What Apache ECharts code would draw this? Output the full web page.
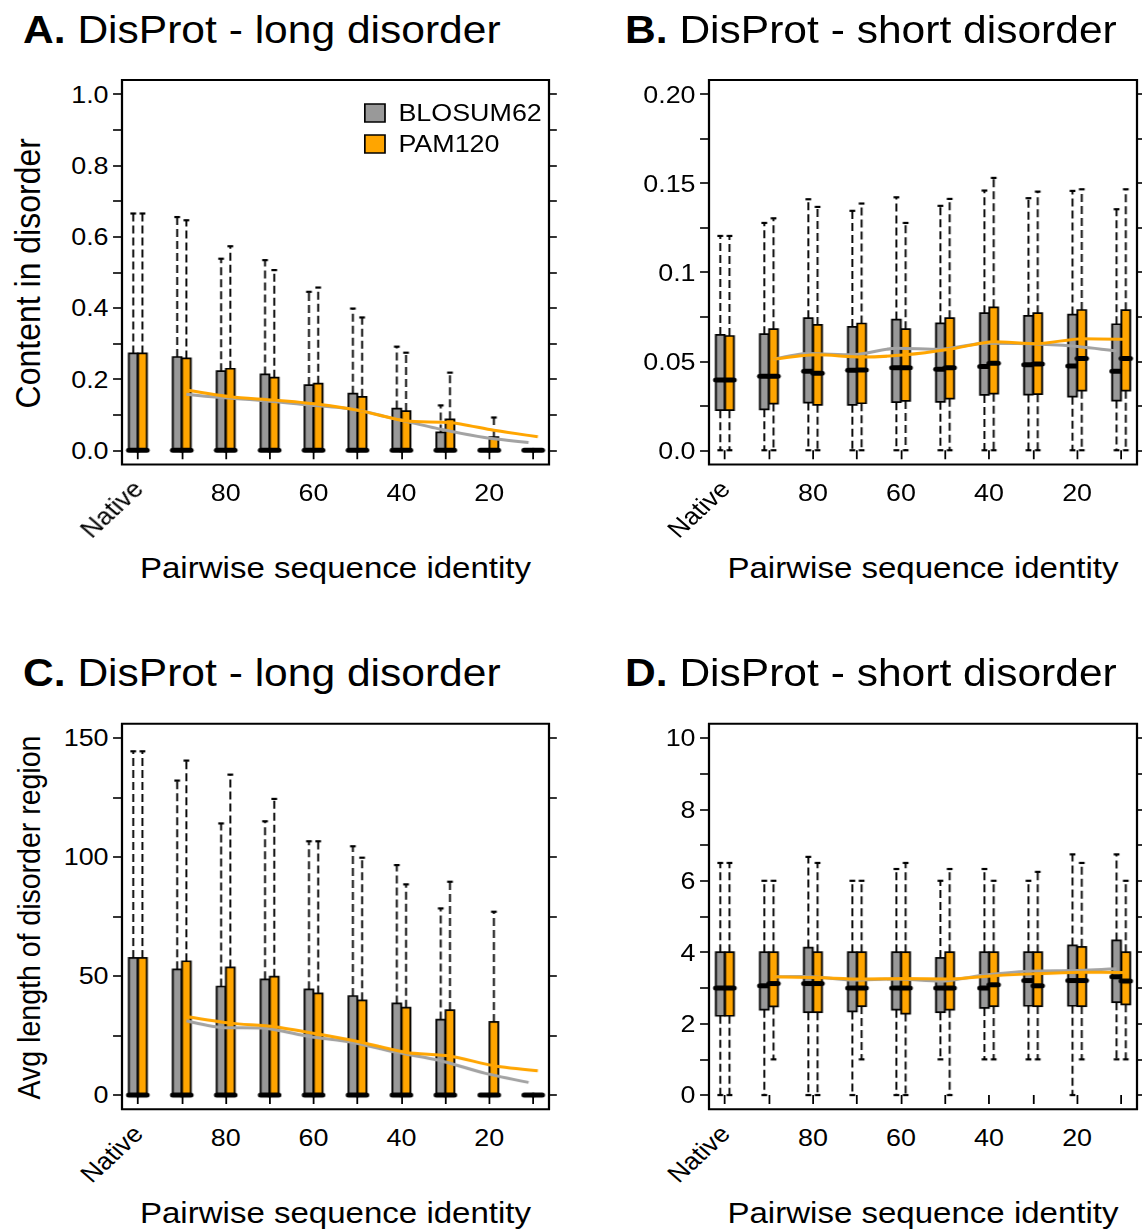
<!DOCTYPE html>
<html>
<head>
<meta charset="utf-8">
<script src="https://cdn.jsdelivr.net/npm/echarts@6/dist/echarts.min.js"></script>
<style>
  html, body { margin: 0; padding: 0; background: #fff; overflow: hidden; }
  /* the figure is laid out on a narrower canvas and stretched horizontally */
  #chart { width: 1019.64px; height: 1229px; transform: scaleX(1.12); transform-origin: 0 0; }
</style>
</head>
<body>
<div id="chart"></div>
<script>
// ---------------- data ----------------
// x groups: native sequences, then decreasing pairwise identity (%)
const groupNames = ['Native', '90', '80', '70', '60', '50', '40', '30', '20', '10'];
const xLabelGroups = [3, 5, 7, 9];           // groups that carry a numeric label
const nativeGroup = [1];

// five-number summaries per group: [min, q1, median, q3, max]
// A: DisProt long disorder, content in disorder
const blosumA = [
  [0, 0, 0, 0.272, 0.665], [0, 0, 0, 0.262, 0.655], [0, 0, 0, 0.222, 0.538],
  [0, 0, 0, 0.213, 0.534], [0, 0, 0, 0.183, 0.445], [0, 0, 0, 0.159, 0.398],
  [0, 0, 0, 0.117, 0.291], [0, 0, 0, 0.050, 0.126], [0, 0, 0, 0, 0], [0, 0, 0, 0, 0]
];
const pamA = [
  [0, 0, 0, 0.272, 0.665], [0, 0, 0, 0.258, 0.646], [0, 0, 0, 0.229, 0.573],
  [0, 0, 0, 0.204, 0.506], [0, 0, 0, 0.187, 0.457], [0, 0, 0, 0.150, 0.373],
  [0, 0, 0, 0.110, 0.274], [0, 0, 0, 0.087, 0.218], [0, 0, 0, 0.037, 0.092], [0, 0, 0, 0, 0]
];
// smoothed trends over groups 90 .. 10
const trendBlosumA = [0.157, 0.148, 0.139, 0.127, 0.115, 0.087, 0.059, 0.036, 0.022];
const trendPamA    = [0.169, 0.150, 0.141, 0.129, 0.110, 0.082, 0.078, 0.056, 0.038];

// B: DisProt short disorder, content in disorder
const blosumB = [
  [0, 0.0225, 0.0395, 0.0648, 0.1204], [0, 0.0230, 0.0416, 0.0652, 0.1277],
  [0, 0.0268, 0.0444, 0.0742, 0.1410], [0, 0.0255, 0.0449, 0.0693, 0.1345],
  [0, 0.0270, 0.0464, 0.0734, 0.1421], [0, 0.0272, 0.0455, 0.0713, 0.1373],
  [0, 0.0311, 0.0470, 0.0770, 0.1459], [0, 0.0313, 0.0481, 0.0755, 0.1416],
  [0, 0.0301, 0.0474, 0.0762, 0.1457], [0, 0.0279, 0.0444, 0.0708, 0.1354]
];
const pamB = [
  [0, 0.0225, 0.0395, 0.0642, 0.1204], [0, 0.0262, 0.0416, 0.0680, 0.1303],
  [0, 0.0255, 0.0433, 0.0704, 0.1367], [0, 0.0264, 0.0451, 0.0712, 0.1386],
  [0, 0.0277, 0.0463, 0.0680, 0.1277], [0, 0.0290, 0.0464, 0.0742, 0.1412],
  [0, 0.0318, 0.0489, 0.0803, 0.1530], [0, 0.0315, 0.0485, 0.0770, 0.1453],
  [0, 0.0335, 0.0515, 0.0788, 0.1466], [0, 0.0335, 0.0515, 0.0787, 0.1466]
];
const trendBlosumB = [0.0511, 0.0543, 0.0536, 0.0573, 0.0567, 0.0601, 0.0599, 0.0586, 0.0558];
const trendPamB    = [0.0511, 0.0536, 0.0524, 0.0536, 0.0567, 0.0610, 0.0599, 0.0627, 0.0624];

// C: DisProt long disorder, average length of disorder region
const blosumC = [
  [0, 0, 0, 57.6, 144.4], [0, 0, 0, 52.8, 132.1], [0, 0, 0, 45.6, 114.1],
  [0, 0, 0, 48.6, 115.0], [0, 0, 0, 44.4, 106.6], [0, 0, 0, 41.6, 104.5],
  [0, 0, 0, 38.5, 96.6], [0, 0, 0, 31.7, 78.4], [0, 0, 0, 0, 0], [0, 0, 0, 0, 0]
];
const pamC = [
  [0, 0, 0, 57.6, 144.4], [0, 0, 0, 56.2, 140.5], [0, 0, 0, 53.6, 134.6],
  [0, 0, 0, 49.7, 124.4], [0, 0, 0, 42.7, 106.6], [0, 0, 0, 39.8, 99.7],
  [0, 0, 0, 36.7, 88.5], [0, 0, 0, 35.7, 89.6], [0, 0, 0, 30.7, 77.0], [0, 0, 0, 0, 0]
];
const trendBlosumC = [31.2, 28.4, 28.1, 24.6, 22.1, 17.9, 14.4, 9.2, 5.3];
const trendPamC    = [33.0, 30.2, 28.7, 25.6, 22.1, 17.9, 16.4, 12.3, 10.2];

// D: DisProt short disorder, average length of disorder region
const blosumD = [
  [0, 2.22, 3.00, 4.00, 6.50], [0, 2.39, 3.06, 4.00, 6.00], [0, 2.32, 3.12, 4.13, 6.67],
  [0, 2.34, 3.00, 4.00, 6.00], [0, 2.39, 3.00, 4.00, 6.33], [1, 2.32, 3.00, 3.84, 6.00],
  [1, 2.44, 3.00, 4.00, 6.33], [1, 2.50, 3.21, 4.00, 6.00], [0, 2.50, 3.21, 4.19, 6.74],
  [1, 2.60, 3.31, 4.33, 6.74]
];
const pamD = [
  [0, 2.22, 3.00, 4.00, 6.50], [1, 2.48, 3.12, 4.00, 6.00], [0, 2.32, 3.12, 4.00, 6.50],
  [1, 2.49, 3.00, 4.00, 6.00], [0, 2.28, 3.00, 4.00, 6.50], [0, 2.39, 3.00, 4.00, 6.33],
  [1, 2.49, 3.09, 4.00, 6.00], [1, 2.49, 3.06, 4.00, 6.25], [1, 2.49, 3.21, 4.15, 6.50],
  [1, 2.54, 3.19, 4.00, 6.00]
];
const trendBlosumD = [3.31, 3.32, 3.22, 3.25, 3.19, 3.36, 3.47, 3.49, 3.54];
const trendPamD    = [3.31, 3.29, 3.25, 3.26, 3.25, 3.34, 3.40, 3.44, 3.43];

// y-axis labels and tick marks
const yLabelsA = [0, 0.2, 0.4, 0.6, 0.8, 1.0];
const yTicksA  = [0, 0.1, 0.2, 0.3, 0.4, 0.5, 0.6, 0.7, 0.8, 0.9, 1.0];
const yLabelsB = [0, 0.05, 0.1, 0.15, 0.2];
const yLabelTextB = ['0.0', '0.05', '0.1', '0.15', '0.20'];
const yTicksB  = [0, 0.025, 0.05, 0.075, 0.1, 0.125, 0.15, 0.175, 0.2];
const yLabelsC = [0, 50, 100, 150];
const yTicksC  = [0, 25, 50, 75, 100, 125, 150];
const yLabelsD = [0, 2, 4, 6, 8, 10];
const yTicksD  = [0, 1, 2, 3, 4, 5, 6, 7, 8, 9, 10];

const seriesNames = ['BLOSUM62', 'PAM120'];

// ---------------- layout & style ----------------
const SX = 1.12;                     // horizontal stretch of the container
const X = v => v / SX;               // page px -> chart px (horizontal)
const FONT = '"Liberation Sans", Arial, Helvetica, sans-serif';
const GRAY = '#999999';
const ORANGE = '#FFA500';
const GRAY_LINE = '#A3A3A3';
const BOX_OFFSET = 0.105;            // gray box left of the tick, orange right
const BOX_HALF = 0.1;
const CAP_HALF = 0.065;
const X_MIN = 0.64, X_MAX = 10.36;

const panels = [
  { key: 'A', title: ' DisProt - long disorder', left: 122, top: 80, width: 427, height: 384.5, titleX: 23,
    yMin: -0.04, yMax: 1.04, labels: yLabelsA, ticks: yTicksA, fmt: v => v.toFixed(1),
    yName: 'Content in disorder', yNameSize: 32, yNameX: 27,
    blosum: blosumA, pam: pamA, tBlosum: trendBlosumA, tPam: trendPamA },
  { key: 'B', title: ' DisProt - short disorder', left: 709, top: 80, width: 428, height: 384.5, titleX: 625,
    yMin: -0.008, yMax: 0.208, labels: yLabelsB, ticks: yTicksB,
    fmt: v => yLabelTextB[yLabelsB.findIndex(l => Math.abs(l - v) < 1e-9)],
    yName: null, blosum: blosumB, pam: pamB, tBlosum: trendBlosumB, tPam: trendPamB },
  { key: 'C', title: ' DisProt - long disorder', left: 122, top: 723.7, width: 427, height: 385.6, titleX: 23,
    yMin: -6, yMax: 156, labels: yLabelsC, ticks: yTicksC, fmt: v => String(Math.round(v)),
    yName: 'Avg length of disorder region', yNameSize: 28.5, yNameX: 29,
    blosum: blosumC, pam: pamC, tBlosum: trendBlosumC, tPam: trendPamC },
  { key: 'D', title: ' DisProt - short disorder', left: 709, top: 723.7, width: 428, height: 385.6, titleX: 625,
    yMin: -0.4, yMax: 10.4, labels: yLabelsD, ticks: yTicksD, fmt: v => String(Math.round(v)),
    yName: null, blosum: blosumD, pam: pamD, tBlosum: trendBlosumD, tPam: trendPamD }
];

const allGroups = groupNames.map((_, i) => i + 1);

// box-and-whisker glyph with dashed whiskers and a heavy median bar
function boxRenderer(offset) {
  return function (params, api) {
    const g = api.value(0);
    const vMin = api.value(1), q1 = api.value(2), med = api.value(3), q3 = api.value(4), vMax = api.value(5);
    const cx = api.coord([g + offset, 0])[0];
    const hw = api.size([BOX_HALF, 0])[0];
    const cap = api.size([CAP_HALF, 0])[0];
    const y = v => api.coord([g, v])[1];
    const fill = api.visual('color');
    const kids = [];
    const dashStyle = { stroke: '#000', lineWidth: 1.7, lineDash: [8, 4] };
    const capStyle = { stroke: '#000', lineWidth: 2.2 };
    if (vMax > q3) {
      kids.push({ type: 'line', shape: { x1: cx, y1: y(q3), x2: cx, y2: y(vMax) }, style: dashStyle });
      kids.push({ type: 'line', shape: { x1: cx - cap, y1: y(vMax), x2: cx + cap, y2: y(vMax) }, style: capStyle });
    }
    if (vMin < q1) {
      kids.push({ type: 'line', shape: { x1: cx, y1: y(q1), x2: cx, y2: y(vMin) }, style: dashStyle });
      kids.push({ type: 'line', shape: { x1: cx - cap, y1: y(vMin), x2: cx + cap, y2: y(vMin) }, style: capStyle });
    }
    if (q3 > q1) {
      kids.push({ type: 'rect', shape: { x: cx - hw, y: y(q3), width: 2 * hw, height: y(q1) - y(q3) },
        style: { fill: fill, stroke: '#000', lineWidth: 1.7 } });
    }
    kids.push({ type: 'line', shape: { x1: cx - hw, y1: y(med), x2: cx + hw, y2: y(med) },
      style: { stroke: '#000', lineWidth: 5, lineCap: 'round' } });
    return { type: 'group', children: kids };
  };
}

// x positions of the smoothed trend points (groups 90 .. 10)
function trendPoints(values, offset) {
  return values.map((v, j) => {
    const g = j + 2;
    const x = j === 0 ? g + BOX_OFFSET : g + offset;
    return [x, v];
  });
}

const grid = [], xAxis = [], yAxis = [], series = [], graphic = [];
const axisFont = { fontSize: 24, color: '#000', fontFamily: FONT };

panels.forEach((p, i) => {
  grid.push({ left: X(p.left), top: p.top, width: X(p.width), height: p.height,
    show: true, borderColor: '#000', borderWidth: 2, backgroundColor: 'transparent' });

  xAxis.push({
    type: 'value', gridIndex: i, min: X_MIN, max: X_MAX, position: 'bottom',
    axisLine: { show: false }, splitLine: { show: false },
    axisTick: { show: true, length: 9, lineStyle: { color: '#000', width: 1.6 }, customValues: allGroups },
    axisLabel: Object.assign({ customValues: xLabelGroups, margin: 16,
      formatter: v => groupNames[Math.round(v) - 1] }, axisFont)
  });
  xAxis.push({
    type: 'value', gridIndex: i, min: X_MIN, max: X_MAX, position: 'bottom',
    axisLine: { show: false }, axisTick: { show: false }, splitLine: { show: false },
    axisLabel: Object.assign({ customValues: nativeGroup, rotate: 46, margin: 20,
      formatter: v => groupNames[Math.round(v) - 1] }, axisFont)
  });

  yAxis.push({
    type: 'value', gridIndex: i, min: p.yMin, max: p.yMax, position: 'left',
    axisLine: { show: false }, splitLine: { show: false },
    axisTick: { show: true, length: 8, lineStyle: { color: '#000', width: 1.6 }, customValues: p.ticks },
    axisLabel: Object.assign({ customValues: p.labels, margin: 12, formatter: p.fmt }, axisFont)
  });
  yAxis.push({
    type: 'value', gridIndex: i, min: p.yMin, max: p.yMax, position: 'right',
    axisLine: { show: false }, splitLine: { show: false },
    axisTick: { show: true, length: 7, lineStyle: { color: '#000', width: 1.6 }, customValues: p.ticks },
    axisLabel: { show: false }
  });

  const xi = 2 * i, yi = 2 * i;
  [[p.blosum, -BOX_OFFSET, GRAY, seriesNames[0]], [p.pam, BOX_OFFSET, ORANGE, seriesNames[1]]]
    .forEach(([stats, off, color, name]) => {
      series.push({
        type: 'custom', name: name, xAxisIndex: xi, yAxisIndex: yi,
        itemStyle: { color: color },
        encode: { x: 0, y: [1, 2, 3, 4, 5] },
        renderItem: boxRenderer(off),
        data: stats.map((s, k) => [k + 1].concat(s)),
        z: 2, silent: true
      });
    });

  series.push({
    type: 'line', name: seriesNames[0] + ' trend', xAxisIndex: xi, yAxisIndex: yi,
    data: trendPoints(p.tBlosum, -BOX_OFFSET), showSymbol: false, smooth: 0.25,
    lineStyle: { color: GRAY_LINE, width: 3 }, z: 4, silent: true
  });
  series.push({
    type: 'line', name: seriesNames[1] + ' trend', xAxisIndex: xi, yAxisIndex: yi,
    data: trendPoints(p.tPam, BOX_OFFSET), showSymbol: false, smooth: 0.25,
    lineStyle: { color: ORANGE, width: 3 }, z: 5, silent: true
  });

  // panel title: bold letter followed by the dataset name
  graphic.push({
    type: 'text', x: X(p.titleX), y: p.top - 50.5,
    style: {
      text: '{b|' + p.key + '.}{n|' + p.title + '}',
      rich: {
        b: { fontWeight: 'bold', fontSize: 38, fontFamily: FONT, fill: '#000' },
        n: { fontSize: 38, fontFamily: FONT, fill: '#000' }
      },
      fontSize: 38, fontFamily: FONT, fill: '#000', align: 'left', verticalAlign: 'middle'
    }
  });

  // x-axis title
  graphic.push({
    type: 'text', x: X(p.left + p.width / 2), y: p.top + p.height + 104,
    style: { text: 'Pairwise sequence identity', fontSize: 29.5, fontFamily: FONT, fill: '#000',
      align: 'center', verticalAlign: 'middle' }
  });

  // y-axis title (left column only)
  if (p.yName) {
    graphic.push({
      type: 'text', x: X(p.yNameX), y: p.top + p.height / 2 + 1, rotation: Math.PI / 2,
      style: { text: p.yName, fontSize: p.yNameSize, fontFamily: FONT, fill: '#000',
        align: 'center', verticalAlign: 'middle' }
    });
  }
});

const chart = echarts.init(document.getElementById('chart'), null,
  { renderer: 'svg', width: 1142 / SX, height: 1229 });

chart.setOption({
  backgroundColor: '#fff',
  animation: false,
  textStyle: { fontFamily: FONT },
  legend: {
    data: seriesNames, orient: 'vertical', left: X(364), top: 101, padding: 0,
    itemWidth: 18, itemHeight: 18, itemGap: 7, icon: 'rect', selectedMode: false,
    itemStyle: { borderColor: '#000', borderWidth: 1.5 },
    textStyle: { fontSize: 24, color: '#000', fontFamily: FONT, padding: [0, 0, 0, 7] }
  },
  grid: grid,
  xAxis: xAxis,
  yAxis: yAxis,
  series: series,
  graphic: graphic
});
</script>
</body>
</html>
